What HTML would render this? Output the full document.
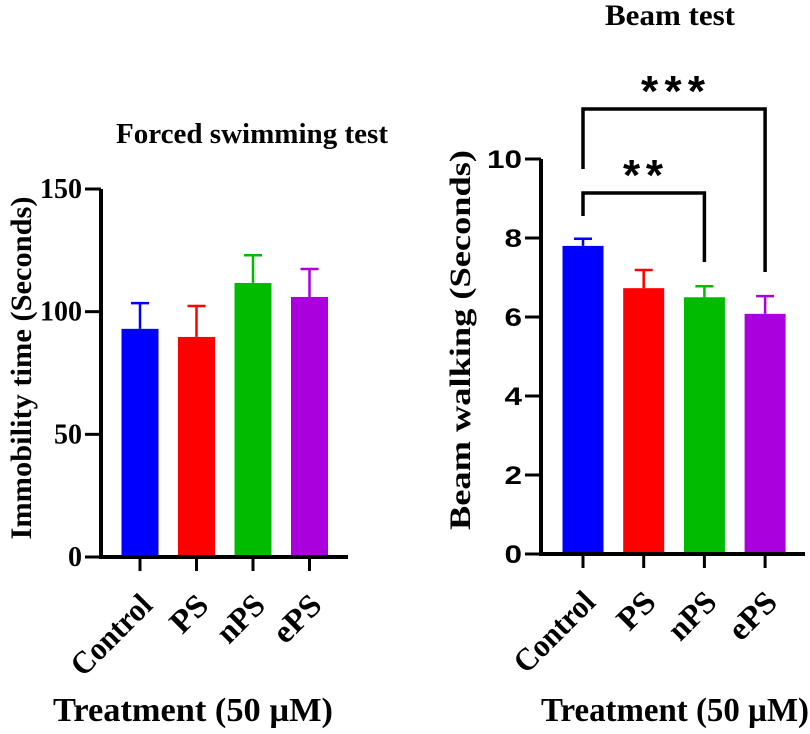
<!DOCTYPE html>
<html><head><meta charset="utf-8"><style>
body{margin:0;background:#fff}
svg text{font-weight:bold}
.serif{font-family:"Liberation Serif",serif}
.sans{font-family:"Liberation Sans",sans-serif}
</style></head><body>
<svg width="810" height="729" viewBox="0 0 810 729" id="fig"></svg>
<script>
const categories=["Control","PS","nPS","ePS"];
const colors=["#0000ff","#ff0000","#00bb00","#aa00dd"];
const fstValues=[93,89.7,111.7,106];
const fstErrors=[10.5,12.6,11.3,11.4];
const fstTicks=[0,50,100,150];
const beamValues=[7.8,6.73,6.5,6.08];
const beamErrors=[0.18,0.46,0.28,0.45];
const beamTicks=[0,2,4,6,8,10];
const NS="http://www.w3.org/2000/svg";
const svg=document.getElementById('fig');
function mk(tag,attrs,parent){const e=document.createElementNS(NS,tag);for(const k in attrs)e.setAttribute(k,attrs[k]);(parent||svg).appendChild(e);return e;}
const labelLen=[100,40,54,54];
function panel(o){
  const g=mk('g',{});
  
  
  const y=v=>o.y0-(v-o.min)/(o.max-o.min)*(o.y0-o.y1);
  const x=i=>o.xs+i*o.step;
  o.values.forEach((v,i)=>{
    const cx=x(i);
    const r=mk('rect',{x:cx-o.bw/2,y:y(v),width:o.bw,height:o.y0-y(v),fill:colors[i]},g);
    
    
    const e=mk('path',{d:`M${cx} ${y(v)}V${y(v+o.errs[i])}M${cx-9} ${y(v+o.errs[i])}H${cx+9}`,stroke:colors[i],'stroke-width':2.5,fill:'none'},g);
    
    
    mk('line',{x1:cx,x2:cx,y1:o.y0,y2:o.y0+14,stroke:'#000','stroke-width':3},g);
    const ax0=cx+14, ay0=o.y0+50;
    const t=mk('text',{x:ax0,y:ay0,'font-size':32,'text-anchor':'end',class:'serif',textLength:labelLen[i],lengthAdjust:'spacingAndGlyphs',transform:`rotate(-45 ${ax0} ${ay0})`},g);
    t.textContent=categories[i];
    
    
  });
  const ax=mk('path',{d:`M${o.ax} ${y(o.max)}V${o.y0}H${o.xend}`,stroke:'#000','stroke-width':4,fill:'none'},g);
  
  
  o.ticks.forEach(t=>{
    mk('line',{x1:o.ax-16,x2:o.ax,y1:y(t),y2:y(t),stroke:'#000','stroke-width':3},g);
    const s=String(t);
    const tx=mk('text',{x:o.ax-19,y:y(t)+9,'font-size':o.tfs,'text-anchor':'end',class:o.tfont,textLength:s.length*o.cw,lengthAdjust:'spacingAndGlyphs'},g);
    tx.textContent=s;
    
    
  });
  return {g,y,x};
}
const L=panel({name:'forced-swimming-panel',values:fstValues,errs:fstErrors,ticks:fstTicks,min:0,max:150,y0:557,y1:189,ax:101,xend:348,xs:140,step:56.5,bw:37,tfont:'serif',cw:14,tfs:28});
const R=panel({name:'beam-test-panel',values:beamValues,errs:beamErrors,ticks:beamTicks,min:0,max:10,y0:554,y1:159,ax:541,xend:805,xs:583,step:60.7,bw:41,tfont:'sans',cw:17.5,tfs:25});
function bracket(x1,x2,top,l1,l2,label,lx,ly,w,name){
  const p=mk('path',{d:`M${x1} ${l1}V${top}H${x2}V${l2}`,stroke:'#000','stroke-width':3.5,fill:'none'});
  
  
  const t=mk('text',{x:lx,y:ly,'font-size':44,'text-anchor':'middle',class:'sans',textLength:w,lengthAdjust:'spacing'});
  t.textContent=label;
  
  
}
bracket(R.x(0),R.x(3),109,169,272,'***',673,106,64,'significance-bracket-ctrl-eps');
bracket(R.x(0),R.x(2),193,216,262,'**',643,190,40,'significance-bracket-ctrl-nps');
function txt(s,x,y,fs,cls,name,len,rot){
  const t=mk('text',{x,y,'font-size':fs,'text-anchor':'middle',class:cls,textLength:len,lengthAdjust:'spacingAndGlyphs'});
  if(rot)t.setAttribute('transform',`rotate(-90 ${x} ${y})`);
  t.textContent=s;
  
  
}
txt('Forced swimming test',252,143,28,'serif','left-chart-title',272);
txt('Beam test',670,25,30,'serif','right-chart-title',130);
txt('Immobility time (Seconds)',31,368,30,'serif','left-y-axis-title',343,true);
txt('Beam walking (Seconds)',470,340,30,'serif','right-y-axis-title',380,true);
txt('Treatment (50 µM)',193,721,34,'serif','left-x-axis-title',280);
txt('Treatment (50 µM)',675,721,34,'serif','right-x-axis-title',268);
</script>
</body></html>
